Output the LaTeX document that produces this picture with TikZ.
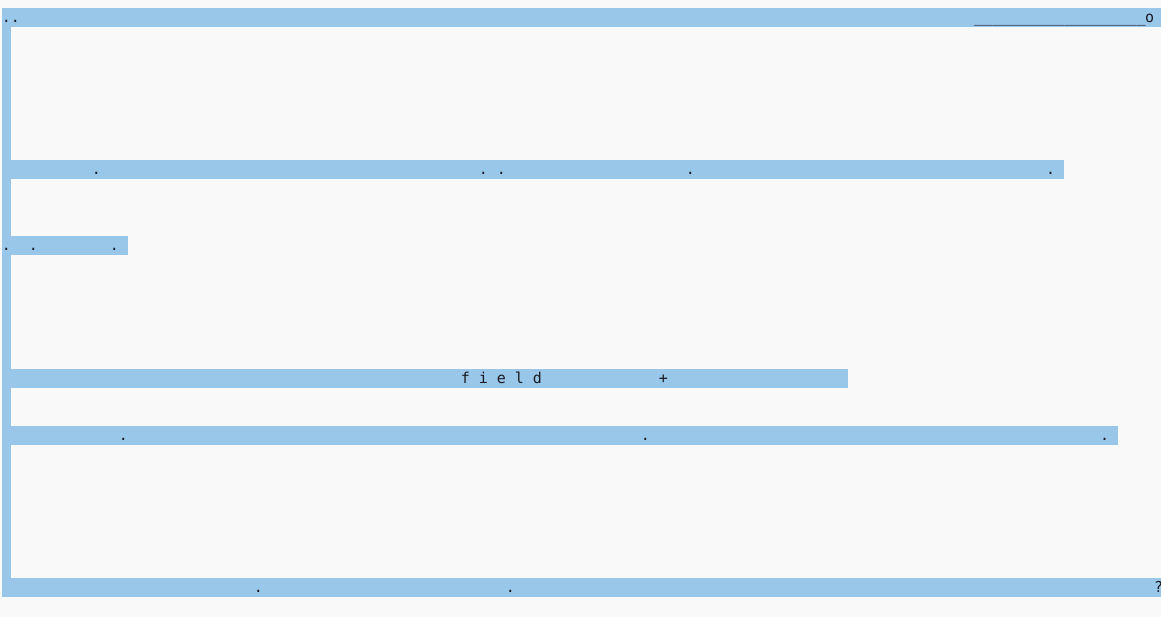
\documentclass[tikz,border=0pt]{standalone}
\usepackage{fontspec}
\setmonofont{DejaVu Sans Mono}
\usepackage{tikz}
\usetikzlibrary{calc,positioning}
\definecolor{selblue}{HTML}{99C7EA}
\definecolor{paper}{HTML}{F9F9F9}
\definecolor{ink}{HTML}{1A1A22}

\begin{document}
\begin{tikzpicture}[x=1pt,y=-1pt,
		ch/.style={anchor=base,inner sep=0pt,text=ink,font=\ttfamily\fontsize{15}{19}\selectfont},
		chw/.style={ch,anchor=base west}]
		\useasboundingbox (0,0) rectangle (1161,617);
		\fill[paper] (0,0) rectangle (1161,617);

		% selection bars, one per line of 19
		\fill[selblue] (2,8) rectangle (1161,27);
		\fill[selblue] (2,27) rectangle (11,597);
		\fill[selblue] (11,160) rectangle (1064,179);
		\fill[selblue] (2,236) rectangle (128,255);
		\fill[selblue] (11,369) rectangle (848,388);
		\fill[selblue] (11,426) rectangle (1118,445);
		\fill[selblue] (2,578) rectangle (1161,597);

		% line 0
		\draw (6.5,22.5) node[ch] {.};
		\draw (15.5,22.5) node[ch] {.};
		\draw (974,22.5) node[chw] {\_\_\_\_\_\_\_\_\_\_\_\_\_\_\_\_\_\_\_};
		\draw (1149.5,22.5) node[ch] {o};

		% line 8
		\draw (96.5,174.5) node[ch] {.};
		\draw (483.5,174.5) node[ch] {.};
		\draw (501.5,174.5) node[ch] {.};
		\draw (690.5,174.5) node[ch] {.};
		\draw (1050.5,174.5) node[ch] {.};

		% line 12
		\draw (6.5,250.5) node[ch] {.};
		\draw (33.5,250.5) node[ch] {.};
		\draw (114.5,250.5) node[ch] {.};

		% line 19
		\draw (465.5,383.5) node[ch] {f};
		\draw (483.5,383.5) node[ch] {i};
		\draw (501.5,383.5) node[ch] {e};
		\draw (519.5,383.5) node[ch] {l};
		\draw (537.5,383.5) node[ch] {d};
		\draw (663.5,383.5) node[ch] {+};

		% line 22
		\draw (123.5,440.5) node[ch] {.};
		\draw (645.5,440.5) node[ch] {.};
		\draw (1104.5,440.5) node[ch] {.};

		% line 30
		\draw (258.5,592.5) node[ch] {.};
		\draw (510.5,592.5) node[ch] {.};
		\draw (1158.5,592.5) node[ch] {?};
	\end{tikzpicture}
\end{document}
